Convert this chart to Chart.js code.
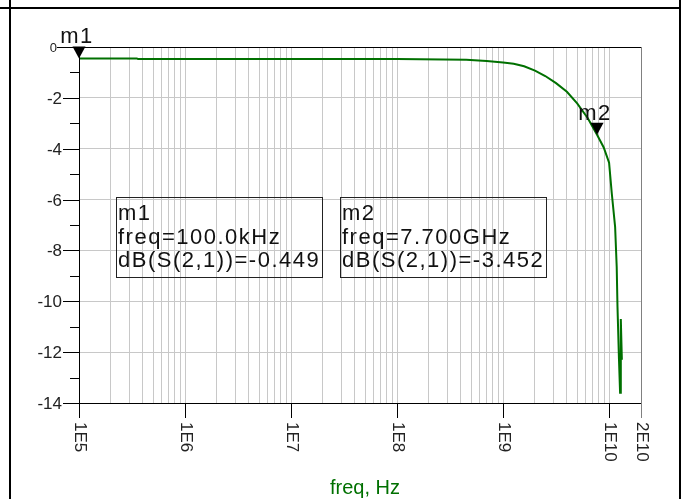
<!DOCTYPE html>
<html>
<head>
<meta charset="utf-8">
<title>dB(S(2,1))</title>
<script src="https://cdn.jsdelivr.net/npm/chart.js@4/dist/chart.umd.min.js"></script>
<style>
  html, body { margin: 0; padding: 0; background: #fff; }
  canvas { display: block; }
</style>
</head>
<body>
<canvas id="grafico" width="690" height="499"></canvas>
<script>
// datos
const freqHz = [1e5, 3.5e5, 3.6e5, 1e8, 4.5e8, 7e8, 1e9, 1.26e9, 1.58e9, 2e9, 2.5e9, 3.16e9, 4e9, 5e9, 6.3e9, 7.7e9, 8.9e9, 1e10, 1.06e10, 1.14e10, 1.18e10, 1.2e10, 1.24e10, 1.27e10, 1.29e10, 1.32e10];
const s21dB = [-0.449, -0.449, -0.47, -0.47, -0.5, -0.55, -0.61, -0.66, -0.76, -0.93, -1.14, -1.42, -1.76, -2.22, -2.8, -3.452, -3.95, -4.55, -5.75, -7.07, -8.64, -10.2, -12.3, -13.6, -10.7, -12.3];

const xTickValues = [1e5, 1e6, 1e7, 1e8, 1e9, 1e10, 2e10];
const xTickLabels = ["1E5", "1E6", "1E7", "1E8", "1E9", "1E10", "2E10"];
const yTickValues = [0, -2, -4, -6, -8, -10, -12, -14];
const yTickLabels = ["0", "-2", "-4", "-6", "-8", "-10", "-12", "-14"];
const yMinorValues = [-1, -3, -5, -7, -9, -11, -13];

const markerNames = ["m1", "m2"];
const markerFreq = [1e5, 7.7e9];
const markerDb = [-0.449, -3.452];
const markerFreqText = ["100.0kHz", "7.700GHz"];
const xTitle = "freq, Hz";

const FUENTE = '"Liberation Sans", Arial, sans-serif';
const VERDE = "#007000";

// líneas de la grilla logarítmica (1..9 por década)
const gridX = [];
for (let d = 1e5; d <= 1e10; d *= 10) {
  for (let k = 1; k <= 9; k++) {
    if (d * k <= 2e10) gridX.push(d * k);
  }
}

// Plugin para ejes, marcadores y textos estilo ADS
const dibujoADS = {
  id: "dibujoADS",
  afterDraw(chart) {
    const ctx = chart.ctx;
    const { left, right, top, bottom } = chart.chartArea;
    const xs = chart.scales.x;
    const ys = chart.scales.y;
    ctx.save();

    // marco exterior
    ctx.strokeStyle = "#000";
    ctx.lineWidth = 2;
    ctx.beginPath();
    ctx.moveTo(0, 8); ctx.lineTo(681, 8);
    ctx.moveTo(10, 0); ctx.lineTo(10, 499);
    ctx.moveTo(680, 0); ctx.lineTo(680, 499);
    ctx.stroke();

    // borde derecho gris
    ctx.lineWidth = 1;
    ctx.strokeStyle = "#808080";
    ctx.beginPath();
    ctx.moveTo(Math.round(right) + 0.5, top);
    ctx.lineTo(Math.round(right) + 0.5, bottom + 15);
    ctx.stroke();

    // ejes
    ctx.strokeStyle = "#000";
    ctx.beginPath();
    ctx.moveTo(left, Math.round(top) + 0.5); ctx.lineTo(right, Math.round(top) + 0.5);
    ctx.moveTo(left, Math.round(bottom) + 0.5); ctx.lineTo(right, Math.round(bottom) + 0.5);
    ctx.moveTo(Math.round(left) + 0.5, top); ctx.lineTo(Math.round(left) + 0.5, bottom);
    ctx.stroke();

    // eje Y: marcas y etiquetas
    ctx.fillStyle = "#222";
    ctx.textAlign = "right";
    ctx.textBaseline = "middle";
    yTickValues.forEach((v, i) => {
      const y = Math.round(ys.getPixelForValue(v)) + 0.5;
      const esCero = v === 0;
      ctx.beginPath();
      ctx.moveTo(left - (esCero ? 22 : 16), y);
      ctx.lineTo(left, y);
      ctx.stroke();
      ctx.font = (esCero ? "13px " : "17px ") + FUENTE;
      ctx.fillText(yTickLabels[i], left - (esCero ? 22 : 17), y + 1);
    });
    yMinorValues.forEach(v => {
      const y = Math.round(ys.getPixelForValue(v)) + 0.5;
      ctx.beginPath();
      ctx.moveTo(left - 9, y);
      ctx.lineTo(left, y);
      ctx.stroke();
    });

    // eje X: marcas y etiquetas giradas
    ctx.font = "17px " + FUENTE;
    ctx.textAlign = "left";
    ctx.textBaseline = "middle";
    xTickValues.forEach((v, i) => {
      const x = Math.round(xs.getPixelForValue(v)) + 0.5;
      ctx.strokeStyle = v === 2e10 ? "#808080" : "#000";
      ctx.beginPath();
      ctx.moveTo(x, bottom);
      ctx.lineTo(x, bottom + 15);
      ctx.stroke();
      ctx.save();
      ctx.translate(x, bottom + 19);
      ctx.rotate(Math.PI / 2);
      ctx.fillText(xTickLabels[i], 0, 0);
      ctx.restore();
    });

    // título del eje X
    ctx.fillStyle = VERDE;
    ctx.font = "20px " + FUENTE;
    ctx.textAlign = "center";
    ctx.textBaseline = "alphabetic";
    ctx.fillText(xTitle, (left + right) / 2 + 5, 494);

    // marcadores (triángulos)
    ctx.letterSpacing = "1.5px";
    markerNames.forEach((nombre, i) => {
      const px = xs.getPixelForValue(markerFreq[i]);
      const py = ys.getPixelForValue(markerDb[i]);
      ctx.fillStyle = "#000";
      ctx.beginPath();
      ctx.moveTo(px - 6.5, py - 12);
      ctx.lineTo(px + 6.5, py - 12);
      ctx.lineTo(px, py);
      ctx.closePath();
      ctx.fill();
      ctx.font = "22px " + FUENTE;
      ctx.textAlign = "center";
      ctx.fillStyle = "#111";
      ctx.fillText(nombre, px - 2, py - 15);
    });

    // cuadros de lectura de los marcadores
    const cajas = [[116, 197], [340, 197]];
    ctx.strokeStyle = "#222";
    ctx.lineWidth = 1;
    ctx.textAlign = "left";
    ctx.font = "22px " + FUENTE;
    ctx.fillStyle = "#111";
    cajas.forEach(([bx, by], i) => {
      ctx.strokeRect(bx + 0.5, by + 0.5, 206, 80);
      ctx.fillText(markerNames[i], bx + 2, by + 23);
      ctx.fillText("freq=" + markerFreqText[i], bx + 2, by + 46.5);
      ctx.fillText("dB(S(2,1))=" + markerDb[i].toFixed(3), bx + 2, by + 70);
    });

    ctx.restore();
  }
};

const ctx = document.getElementById("grafico").getContext("2d");
new Chart(ctx, {
  type: "line",
  data: {
    datasets: [{
      label: "dB(S(2,1))",
      data: freqHz.map((f, i) => ({ x: f, y: s21dB[i] })),
      borderColor: VERDE,
      borderWidth: 2,
      pointRadius: 0,
      tension: 0,
      fill: false
    }]
  },
  options: {
    responsive: false,
    animation: false,
    layout: { padding: { left: 79, top: 47, right: 49, bottom: 96 } },
    plugins: { legend: { display: false }, tooltip: { enabled: false } },
    scales: {
      x: {
        type: "logarithmic",
        min: 1e5,
        max: 2e10,
        afterBuildTicks: (scale) => { scale.ticks = gridX.map(v => ({ value: v })); },
        grid: { color: "#c8c8c8", lineWidth: 1, drawTicks: false },
        border: { display: false },
        ticks: { display: false }
      },
      y: {
        type: "linear",
        min: -14,
        max: 0,
        afterBuildTicks: (scale) => { scale.ticks = yTickValues.map(v => ({ value: v })); },
        grid: { color: "#c8c8c8", lineWidth: 1, drawTicks: false },
        border: { display: false },
        ticks: { display: false }
      }
    }
  },
  plugins: [dibujoADS]
});
</script>
</body>
</html>
